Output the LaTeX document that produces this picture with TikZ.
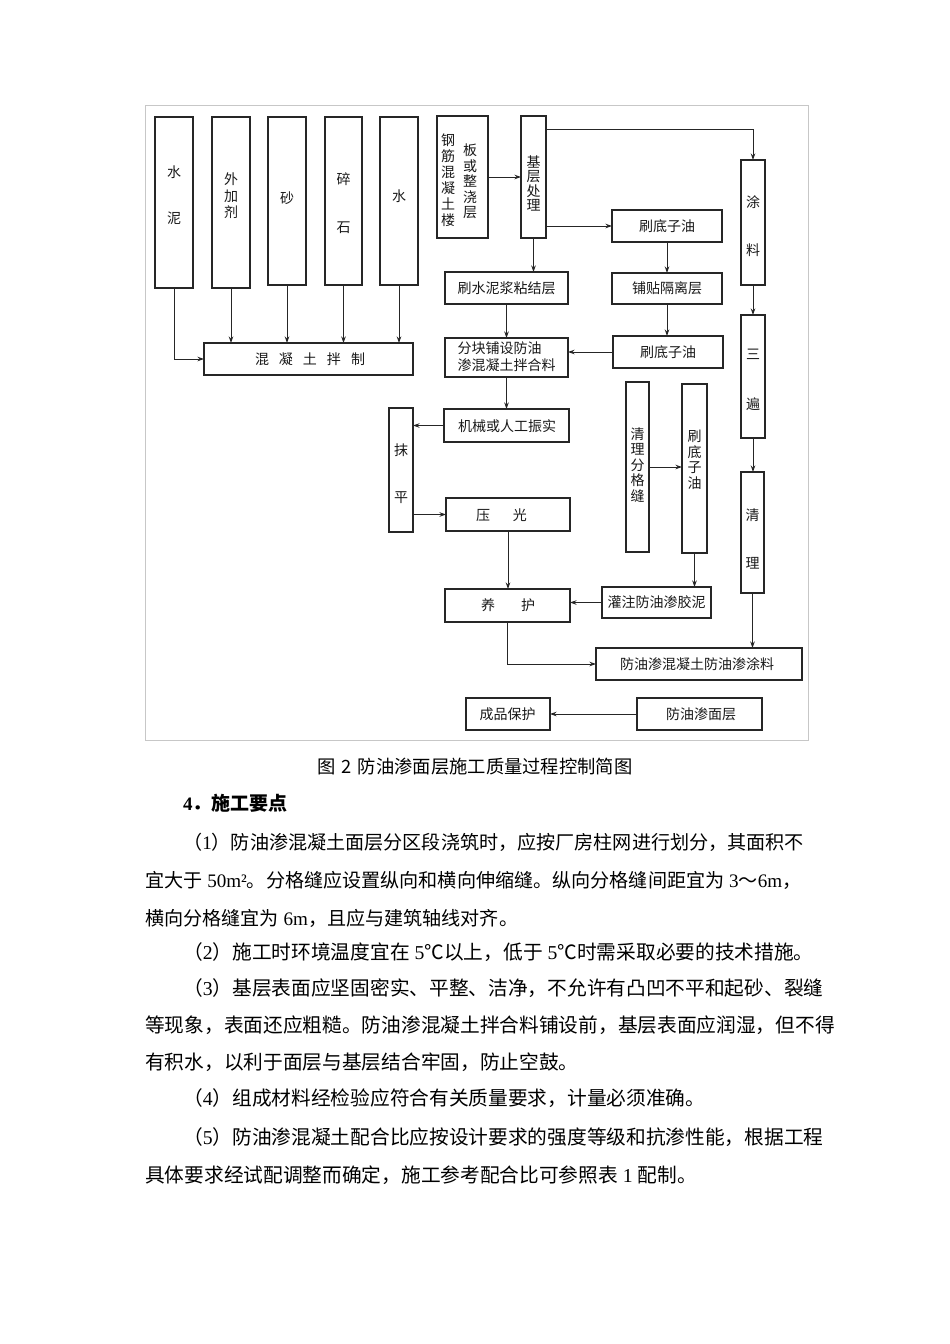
\documentclass[tikz,border=0pt]{standalone}
\usepackage{fontspec}
\setmainfont{Liberation Serif}
\newfontfamily\cjk{Noto Sans CJK SC}
\newfontfamily\latf{Liberation Serif}
\usetikzlibrary{arrows.meta}
\newcommand\ltn[1]{{\latf #1}}
\newcommand\mkbox[5]{\node[bx, minimum width={(#4-#2)*1pt}, minimum height={(#5-#3)*1pt}] (#1) at ({(#2+#4)/2},{(#3+#5)/2}) {};}
\tikzset{
  bx/.style={draw=black!85, line width=1.1pt, inner sep=0pt, outer sep=0pt},
  arr/.style={draw=black!85, line width=0.9pt, -{Stealth[length=6.5pt,width=4.5pt]}},
  lbl/.style={inner sep=0pt, align=center, text=black!90, font=\cjk\fontsize{14}{15.5}\selectfont},
  para/.style={anchor=base west, inner sep=0pt, font=\cjk\fontsize{19.7}{22}\selectfont},
  paraA/.style={para, font=\cjk\fontsize{19.1}{22}\selectfont},
}
\begin{document}
\begin{tikzpicture}[x=1pt,y=-1pt]
\fill[white] (0,0) rectangle (950,1344);
\useasboundingbox (0,0) rectangle (950,1344);
\draw[black!22, line width=0.9pt] (145,105) rectangle (808,740);

% boxes
\mkbox{shuini}{155}{117}{193}{288}
\mkbox{waijia}{212}{117}{250}{288}
\mkbox{sha}{268}{117}{306}{285}
\mkbox{suishi}{325}{117}{362}{285}
\mkbox{shui}{380}{117}{418}{285}
\mkbox{gangjin}{437}{116}{488}{238}
\mkbox{jiceng}{521}{116}{546}{238}
\mkbox{tuliao}{741}{160}{765}{285}
\mkbox{sanbian}{741}{315}{765}{438}
\mkbox{ql}{741}{472}{764}{593}
\mkbox{sdA}{612}{210}{722}{242}
\mkbox{ptg}{612}{273}{722}{304}
\mkbox{sdB}{613}{336}{723}{368}
\mkbox{snj}{445}{272}{568}{304}
\mkbox{fk}{445}{338}{568}{377}
\mkbox{mix}{204}{343}{413}{375}
\mkbox{jx}{444}{409}{569}{442}
\mkbox{mp}{389}{408}{413}{532}
\mkbox{yg}{446}{498}{570}{531}
\mkbox{qlfgf}{626}{382}{649}{552}
\mkbox{sdv}{682}{384}{707}{553}
\mkbox{yh}{445}{589}{570}{622}
\mkbox{gz}{602}{587}{711}{618}
\mkbox{fy}{596}{648}{802}{680}
\mkbox{cp}{466}{698}{550}{730}
\mkbox{fymc}{637}{698}{762}{730}

% labels
\node[lbl] (t-shuini) at (174,195) {水\\[30.5pt]泥};
\node[lbl, font=\cjk\fontsize{14}{16.5}\selectfont] (t-waijia) at (231,196) {外\\加\\剂};
\node[lbl] (t-sha) at (287,198) {砂};
\node[lbl] (t-suishi) at (343.5,203) {碎\\[32.5pt]石};
\node[lbl] (t-shui) at (399,196) {水};
\node[lbl, font=\cjk\fontsize{14}{16}\selectfont] (t-gj1) at (448,180) {钢\\筋\\混\\凝\\土\\楼};
\node[lbl, font=\cjk\fontsize{14}{15.5}\selectfont] (t-gj2) at (470,181.5) {板\\或\\整\\浇\\层};
\node[lbl, font=\cjk\fontsize{14}{14.5}\selectfont] (t-jiceng) at (533.5,183.5) {基\\层\\处\\理};
\node[lbl] (t-tuliao) at (753,226) {涂\\[32.5pt]料};
\node[lbl] (t-sanbian) at (753,380) {三\\[34.5pt]遍};
\node[lbl] (t-ql) at (752.5,539) {清\\[32.5pt]理};
\node[lbl] (t-sdA) at (667,226) {刷底子油};
\node[lbl] (t-ptg) at (667,288.5) {铺贴隔离层};
\node[lbl] (t-sdB) at (668,352) {刷底子油};
\node[lbl] (t-snj) at (506.5,288) {刷水泥浆粘结层};
\node[lbl, align=left, font=\cjk\fontsize{14}{17}\selectfont] (t-fk) at (506.5,357) {分块铺设防油\\渗混凝土拌合料};
\node[lbl] (t-mix) at (310,359) {混\hspace{10pt}凝\hspace{10pt}土\hspace{10pt}拌\hspace{10pt}制};
\node[lbl] (t-jx) at (507,426) {机械或人工振实};
\node[lbl] (t-mp) at (401,473.5) {抹\\[31.5pt]平};
\node[lbl] (t-yg) at (501.5,515) {压\hspace{23pt}光};
\node[lbl] (t-qlfgf) at (637.5,465) {清\\理\\分\\格\\缝};
\node[lbl] (t-sdv) at (694.5,460) {刷\\底\\子\\油};
\node[lbl] (t-yh) at (508,605) {养\hspace{26pt}护};
\node[lbl] (t-gz) at (656.5,602.5) {灌注防油渗胶泥};
\node[lbl] (t-fy) at (697,664) {防油渗混凝土防油渗涂料};
\node[lbl] (t-cp) at (507.5,714) {成品保护};
\node[lbl] (t-fymc) at (701,714) {防油渗面层};

% connectors
\draw[arr] (shuini.south) |- (mix.west);
\draw[arr] (waijia.south) -- (waijia.south |- mix.north);
\draw[arr] (sha.south) -- (sha.south |- mix.north);
\draw[arr] (suishi.south) -- (suishi.south |- mix.north);
\draw[arr] (shui.south) -- (shui.south |- mix.north);
\draw[arr] (gangjin.east) -- (jiceng.west);
\draw[arr] ([yshift=-13pt]jiceng.north east) -| (tuliao.north);
\draw[arr] (jiceng.east |- sdA.west) -- (sdA.west);
\draw[arr] (jiceng.south) -- (jiceng.south |- snj.north);
\draw[arr] (sdA.south) -- (sdA.south |- ptg.north);
\draw[arr] (ptg.south) -- (ptg.south |- sdB.north);
\draw[arr] (sdB.west) -- (sdB.west -| fk.east);
\draw[arr] (snj.south) -- (snj.south |- fk.north);
\draw[arr] (tuliao.south) -- (tuliao.south |- sanbian.north);
\draw[arr] (fk.south) -- (fk.south |- jx.north);
\draw[arr] (jx.west) -- (jx.west -| mp.east);
\draw[arr] (mp.east |- yg.west) -- (yg.west);
\draw[arr] (yg.south) -- (yg.south |- yh.north);
\draw[arr] (qlfgf.east) -- (qlfgf.east -| sdv.west);
\draw[arr] (sdv.south) -- (sdv.south |- gz.north);
\draw[arr] (gz.west) -- (gz.west -| yh.east);
\draw[arr] (sanbian.south) -- (sanbian.south |- ql.north);
\draw[arr] (ql.south) -- (ql.south |- fy.north);
\draw[arr] (yh.south) |- (fy.west);
\draw[arr] (fymc.west) -- (fymc.west -| cp.east);

% caption and text
\node[inner sep=0pt, font=\cjk\fontsize{18.3}{20}\selectfont] (cap) at (475,767) {图\hspace{6pt}2\hspace{6pt}防油渗面层施工质量过程控制简图};
\node[anchor=base west, inner sep=0pt] (hd) at (183,810) {{\latf\fontsize{19}{22}\selectfont\bfseries 4}{\cjk\fontsize{19}{22}\selectfont\bfseries ．施工要点}};
\node[paraA] (p1) at (183,849) {（\ltn{1}）防油渗混凝土面层分区段浇筑时，应按厂房柱网进行划分，其面积不};
\node[paraA] (p2) at (145,887) {宜大于\ltn{\ 50m²}。分格缝应设置纵向和横向伸缩缝。纵向分格缝间距宜为\ltn{\ 3}～\ltn{6m}，};
\node[paraA] (p3) at (145,925) {横向分格缝宜为\ltn{\ 6m}，且应与建筑轴线对齐。};
\node[para] (p4) at (183,959) {（\ltn{2}）施工时环境温度宜在\ltn{\ 5}℃以上，低于\ltn{\ 5}℃时需采取必要的技术措施。};
\node[para] (p5) at (183,995) {（\ltn{3}）基层表面应坚固密实、平整、洁净，不允许有凸凹不平和起砂、裂缝};
\node[para] (p6) at (145,1032) {等现象，表面还应粗糙。防油渗混凝土拌合料铺设前，基层表面应润湿，但不得};
\node[para] (p7) at (145,1069) {有积水，以利于面层与基层结合牢固，防止空鼓。};
\node[para] (p8) at (183,1105) {（\ltn{4}）组成材料经检验应符合有关质量要求，计量必须准确。};
\node[para] (p9) at (183,1144) {（\ltn{5}）防油渗混凝土配合比应按设计要求的强度等级和抗渗性能，根据工程};
\node[para] (p10) at (145,1182) {具体要求经试配调整而确定，施工参考配合比可参照表\ltn{\ 1\ }配制。};
\end{tikzpicture}
\end{document}
